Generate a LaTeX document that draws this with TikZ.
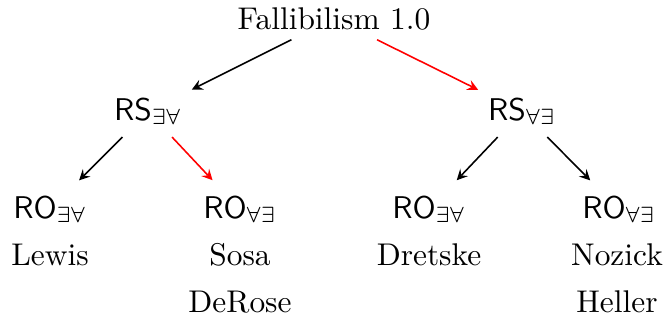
\documentclass[tikz,border=0pt]{standalone}
\begin{document}
\begin{tikzpicture}[x=0.3185pt,y=-0.3185pt,>=stealth,
  lbl/.style={anchor=base,inner sep=3pt},
  arr/.style={->,line width=0.5pt},
  redarr/.style={arr,red},
  low/.style={shorten >=2.6pt,shorten <=1pt}]
\useasboundingbox (0,0) rectangle (663,320);
\node[lbl] (top) at (334,29) {Fallibilism 1.0};
\node[lbl] (rsL) at (148,120) {$\mathsf{RS}_{\exists\forall}$};
\node[lbl] (rsR) at (522,120) {$\mathsf{RS}_{\forall\exists}$};
\node[lbl] (ro1) at (50,218) {$\mathsf{RO}_{\exists\forall}$};
\node[lbl] (ro2) at (240,218) {$\mathsf{RO}_{\forall\exists}$};
\node[lbl] (ro3) at (429,218) {$\mathsf{RO}_{\exists\forall}$};
\node[lbl] (ro4) at (619,218) {$\mathsf{RO}_{\forall\exists}$};
\node[lbl] (lewis) at (50,265) {Lewis};
\node[lbl] (sosa) at (240,265) {Sosa};
\node[lbl] (derose) at (240,312) {DeRose};
\node[lbl] (dretske) at (429,265) {Dretske};
\node[lbl] (nozick) at (617,265) {Nozick};
\node[lbl] (heller) at (617,312) {Heller};
\draw[arr] (top) -- (rsL);
\draw[redarr] (top) -- (rsR);
\draw[arr,low] (rsL) -- (ro1);
\draw[redarr,low] (rsL) -- (ro2);
\draw[arr,low] (rsR) -- (ro3);
\draw[arr,low] (rsR) -- (ro4);
\end{tikzpicture}
\end{document}
